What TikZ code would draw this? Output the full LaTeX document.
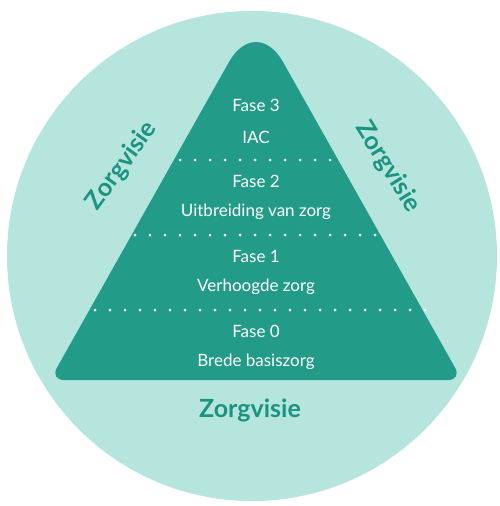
\documentclass[tikz,border=0pt]{standalone}
\usepackage{fontspec}
\setmainfont{Lato}
\usepackage{tikz}
\usetikzlibrary{positioning,calc}
\definecolor{discfill}{HTML}{B6E5DD}
\definecolor{pyramidfill}{HTML}{239B89}
\definecolor{visietext}{HTML}{1A9380}

\begin{document}
\begin{tikzpicture}[x=1pt, y=-1pt,
    phase/.style={text=white, font=\fontsize{17}{20}\selectfont, inner sep=0pt},
    visie/.style={text=visietext, font=\fontsize{25}{28}\selectfont\bfseries, inner sep=0pt},
    dots/.style={white, line width=3pt, line cap=round, dash pattern=on 0pt off 15pt}
  ]
    \useasboundingbox (0,0) rectangle (500,506);
    \fill[discfill] (252,256) circle (245);
    \fill[pyramidfill] (256,380) [rounded corners=14pt] -- (462,380) [rounded corners=55pt] -- (256,14) [rounded corners=14pt] -- (50,380) -- cycle;

    % fasen
    \node[phase] (fase3) at (256,105) {Fase 3};
    \node[phase] (iac) at (256,137) {IAC};
    \node[phase] (fase2) at (256,181) {Fase 2};
    \node[phase] (uitbreiding) at (256,212) {Uitbreiding van zorg};
    \node[phase] (fase1) at (256,256) {Fase 1};
    \node[phase] (verhoogd) at (256,287) {Verhoogde zorg};
    \node[phase] (fase0) at (256,331) {Fase 0};
    \node[phase] (basis) at (256,362) {Brede basiszorg};

    % scheidingen
    \coordinate (sep3l) at (180,160);
    \coordinate (sep3r) at (335,160);
    \coordinate (sep2l) at (135,235);
    \coordinate (sep2r) at (380,235);
    \coordinate (sep1l) at (95,310);
    \coordinate (sep1r) at (425,310);
    \draw[dots] (sep3l) -- (sep3r);
    \draw[dots] (sep2l) -- (sep2r);
    \draw[dots] (sep1l) -- (sep1r);

    % zorgvisie
    \node[visie, rotate=54] (visieleft) at (122,166) {Zorgvisie};
    \node[visie, rotate=-58] (visieright) at (388,167) {Zorgvisie};
    \node[visie] (visiebottom) at (250,410) {Zorgvisie};
  \end{tikzpicture}
\end{document}
